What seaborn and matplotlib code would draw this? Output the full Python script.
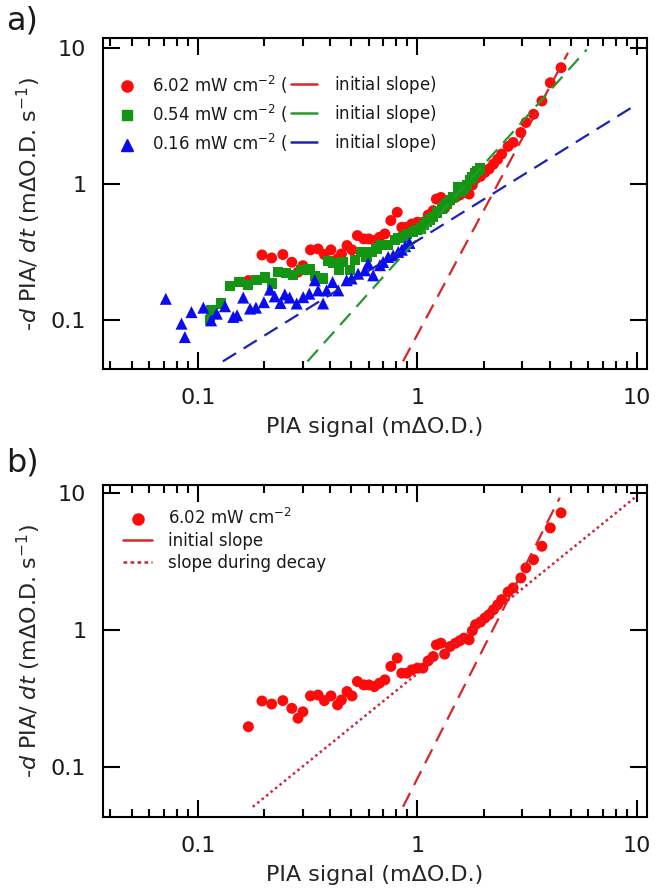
import numpy as np
import pandas as pd
import matplotlib
matplotlib.use('Agg')
import matplotlib.pyplot as plt
from matplotlib.lines import Line2D
from matplotlib.ticker import LogLocator, NullLocator
import seaborn as sns

# 6.02 mW cm-2 data
red_x = [0.170, 0.196, 0.217, 0.244, 0.268, 0.286, 0.301, 0.326, 0.353, 0.377,
         0.404, 0.433, 0.451, 0.478, 0.504, 0.533, 0.570, 0.601, 0.637, 0.671,
         0.711, 0.757, 0.809, 0.849, 0.895, 0.944, 1.00, 1.06, 1.12, 1.18,
         1.22, 1.28, 1.33, 1.41, 1.49, 1.56, 1.63, 1.72, 1.78, 1.84,
         1.94, 2.03, 2.12, 2.22, 2.32, 2.42, 2.59, 2.73, 2.96, 3.12,
         3.38, 3.69, 4.03, 4.51]
red_y = [0.196, 0.302, 0.287, 0.304, 0.267, 0.226, 0.252, 0.329, 0.334, 0.304,
         0.329, 0.283, 0.307, 0.354, 0.329, 0.419, 0.396, 0.396, 0.385, 0.407,
         0.431, 0.540, 0.621, 0.482, 0.482, 0.510, 0.525, 0.525, 0.593, 0.638,
         0.776, 0.798, 0.664, 0.755, 0.798, 0.831, 0.869, 0.845, 0.984, 1.09,
         1.14, 1.22, 1.29, 1.40, 1.52, 1.66, 1.89, 2.02, 2.39, 2.83,
         3.25, 4.07, 5.54, 7.14]

# 0.54 mW cm-2 data
green_x = [0.1135, 0.1146, 0.128, 0.140, 0.155, 0.169, 0.185, 0.202, 0.217, 0.232,
           0.253, 0.272, 0.297, 0.324, 0.341, 0.372, 0.393, 0.413, 0.440, 0.459,
           0.492, 0.519, 0.557, 0.587, 0.618, 0.652, 0.687, 0.736, 0.789, 0.82,
           0.861, 0.90, 0.957, 0.99, 1.04, 1.07, 1.10, 1.14, 1.18, 1.23,
           1.29, 1.32, 1.36, 1.41, 1.46, 1.53, 1.57, 1.62, 1.68, 1.73,
           1.78, 1.83, 1.88, 1.93]
green_y = [0.101, 0.119, 0.133, 0.178, 0.191, 0.181, 0.197, 0.206, 0.186, 0.227,
           0.223, 0.214, 0.233, 0.236, 0.211, 0.203, 0.273, 0.264, 0.233, 0.268,
           0.233, 0.276, 0.318, 0.292, 0.318, 0.336, 0.356, 0.356, 0.388, 0.40,
           0.410, 0.43, 0.446, 0.46, 0.472, 0.50, 0.528, 0.55, 0.575, 0.62,
           0.662, 0.69, 0.721, 0.76, 0.807, 0.955, 0.88, 0.929, 0.98, 1.07,
           1.12, 1.20, 1.25, 1.30]

# 0.16 mW cm-2 data
blue_x = [0.0715, 0.0843, 0.0873, 0.0936, 0.106, 0.115, 0.122, 0.133, 0.145, 0.151,
          0.161, 0.173, 0.184, 0.200, 0.213, 0.224, 0.238, 0.249, 0.262, 0.282,
          0.302, 0.322, 0.341, 0.353, 0.372, 0.386, 0.411, 0.436, 0.476, 0.501,
          0.537, 0.577, 0.597, 0.629, 0.675, 0.698, 0.736, 0.776, 0.818, 0.85,
          0.88, 0.92]
blue_y = [0.144, 0.0946, 0.0754, 0.115, 0.124, 0.100, 0.112, 0.127, 0.106, 0.109,
          0.147, 0.122, 0.124, 0.136, 0.168, 0.150, 0.134, 0.155, 0.147, 0.133,
          0.148, 0.157, 0.197, 0.166, 0.133, 0.166, 0.191, 0.166, 0.197, 0.203,
          0.220, 0.233, 0.261, 0.214, 0.254, 0.268, 0.292, 0.300, 0.318, 0.33,
          0.35, 0.37]

# initial slopes (end points)
red_fit_x = [0.86, 4.85]
red_fit_y = [0.050, 9.2]
green_fit_x = [0.316, 5.9]
green_fit_y = [0.050, 9.7]
blue_fit_x = [0.13, 9.6]
blue_fit_y = [0.050, 3.7]
# panel b lines
red_fit_b_x = [0.86, 4.45]
red_fit_b_y = [0.051, 9.2]
decay_x = [0.178, 10.0]
decay_y = [0.051, 9.5]

RED = '#ff0a0a'
GREEN = '#139413'
BLUE = '#0a0af5'
RED_LINE = '#d92626'
GREEN_LINE = '#26992b'
BLUE_LINE = '#1a22b8'
DECAY_LINE = '#c8283c'

sns.set_theme(style='ticks')
plt.rcParams['font.family'] = ['DejaVu Sans']
plt.rcParams['mathtext.fontset'] = 'dejavusans'
plt.rcParams['text.color'] = '#1a1a1a'


def style_axis(ax, ylim):
    ax.set_xscale('log')
    ax.set_yscale('log')
    ax.set_xlim(0.037, 11.1)
    ax.set_ylim(*ylim)
    ax.set_xticks([0.1, 1, 10])
    ax.set_xticklabels(['0.1', '1', '10'])
    ax.set_yticks([0.1, 1, 10])
    ax.set_yticklabels(['0.1', '1', '10'])
    ax.xaxis.set_minor_locator(LogLocator(base=10, subs=np.arange(2, 10)))
    ax.yaxis.set_minor_locator(NullLocator())
    ax.tick_params(which='both', direction='in', top=True, right=True,
                   width=1.5, color='black', labelsize=16, labelcolor='#1a1a1a')
    ax.tick_params(which='major', length=12)
    ax.tick_params(which='minor', length=6)
    ax.tick_params(axis='x', pad=14)
    ax.tick_params(axis='y', pad=12)
    for sp in ax.spines.values():
        sp.set_linewidth(1.5)
        sp.set_color('black')
    ax.set_xlabel('PIA signal (m\u0394O.D.)', fontsize=16, labelpad=6)
    ax.set_ylabel(r'-$d$ PIA/ $dt$ (m$\Delta$O.D. s$^{-1}$)', fontsize=16, labelpad=6)
    ax.grid(False)


fig = plt.figure(figsize=(6.58, 8.96), dpi=100)
ax1 = fig.add_axes([0.1565, 0.5882, 0.8267, 0.3694])
ax2 = fig.add_axes([0.1565, 0.0882, 0.8267, 0.3705])

dash = (7, 4)

# ---- panel a ----
sns.scatterplot(x=red_x, y=red_y, ax=ax1, marker='o', color=RED, s=62,
                edgecolor='none', zorder=3)
sns.scatterplot(x=green_x, y=green_y, ax=ax1, marker='s', color=GREEN, s=55,
                edgecolor='none', zorder=4)
sns.scatterplot(x=blue_x, y=blue_y, ax=ax1, marker='^', color=BLUE, s=75,
                edgecolor='none', zorder=5)
ax1.plot(red_fit_x, red_fit_y, color=RED_LINE, lw=1.6, dashes=dash, zorder=6)
ax1.plot(green_fit_x, green_fit_y, color=GREEN_LINE, lw=1.6, dashes=dash, zorder=6)
ax1.plot(blue_fit_x, blue_fit_y, color=BLUE_LINE, lw=1.6, dashes=dash, zorder=6)
style_axis(ax1, (0.044, 11.8))

# legend: markers with "( " and line samples with "initial slope)"
mk_handles = [Line2D([], [], ls='', marker='o', color=RED, markersize=8),
              Line2D([], [], ls='', marker='s', color=GREEN, markersize=7.5),
              Line2D([], [], ls='', marker='^', color=BLUE, markersize=9)]
mk_labels = ['6.02 mW cm$^{-2}$ (', '0.54 mW cm$^{-2}$ (', '0.16 mW cm$^{-2}$ (']
ln_handles = [Line2D([], [], color=RED_LINE, lw=1.8),
              Line2D([], [], color=GREEN_LINE, lw=1.8),
              Line2D([], [], color=BLUE_LINE, lw=1.8)]
ln_labels = ['initial slope)$^{\\ }$'] * 3

leg_kw = dict(loc='upper left', frameon=False, fontsize=12, handletextpad=1.0,
              labelspacing=0.42, borderpad=0, borderaxespad=0)
leg1 = ax1.legend(mk_handles, mk_labels, bbox_to_anchor=(0.029, 0.891),
                  handlelength=1.0, **leg_kw)
ax1.add_artist(leg1)
ax1.legend(ln_handles, ln_labels, bbox_to_anchor=(0.345, 0.891),
           handlelength=1.6, **leg_kw)

# ---- panel b ----
sns.scatterplot(x=red_x, y=red_y, ax=ax2, marker='o', color=RED, s=62,
                edgecolor='none', zorder=3)
ax2.plot(red_fit_b_x, red_fit_b_y, color=RED_LINE, lw=1.6, dashes=dash, zorder=4)
ax2.plot(decay_x, decay_y, color=DECAY_LINE, lw=1.8, dashes=(1.0, 1.3), zorder=4)
style_axis(ax2, (0.043, 11.4))

b_handles = [Line2D([], [], ls='', marker='o', color=RED, markersize=8),
             Line2D([], [], color=RED_LINE, lw=1.8),
             Line2D([], [], color=DECAY_LINE, lw=1.8, dashes=(1.5, 1.3))]
ax2.legend(b_handles, ['6.02 mW cm$^{-2}$', 'initial slope', 'slope during decay'],
           loc='upper left', bbox_to_anchor=(0.037, 0.93), frameon=False,
           fontsize=12, handlelength=1.74, handletextpad=0.95,
           labelspacing=0.22, borderpad=0, borderaxespad=0)

fig.text(0.01, 1 - 29 / 896, 'a)', fontsize=23, va='baseline', ha='left')
fig.text(0.01, 1 - 471 / 896, 'b)', fontsize=23, va='baseline', ha='left')

fig.savefig('out.png', dpi=100)
